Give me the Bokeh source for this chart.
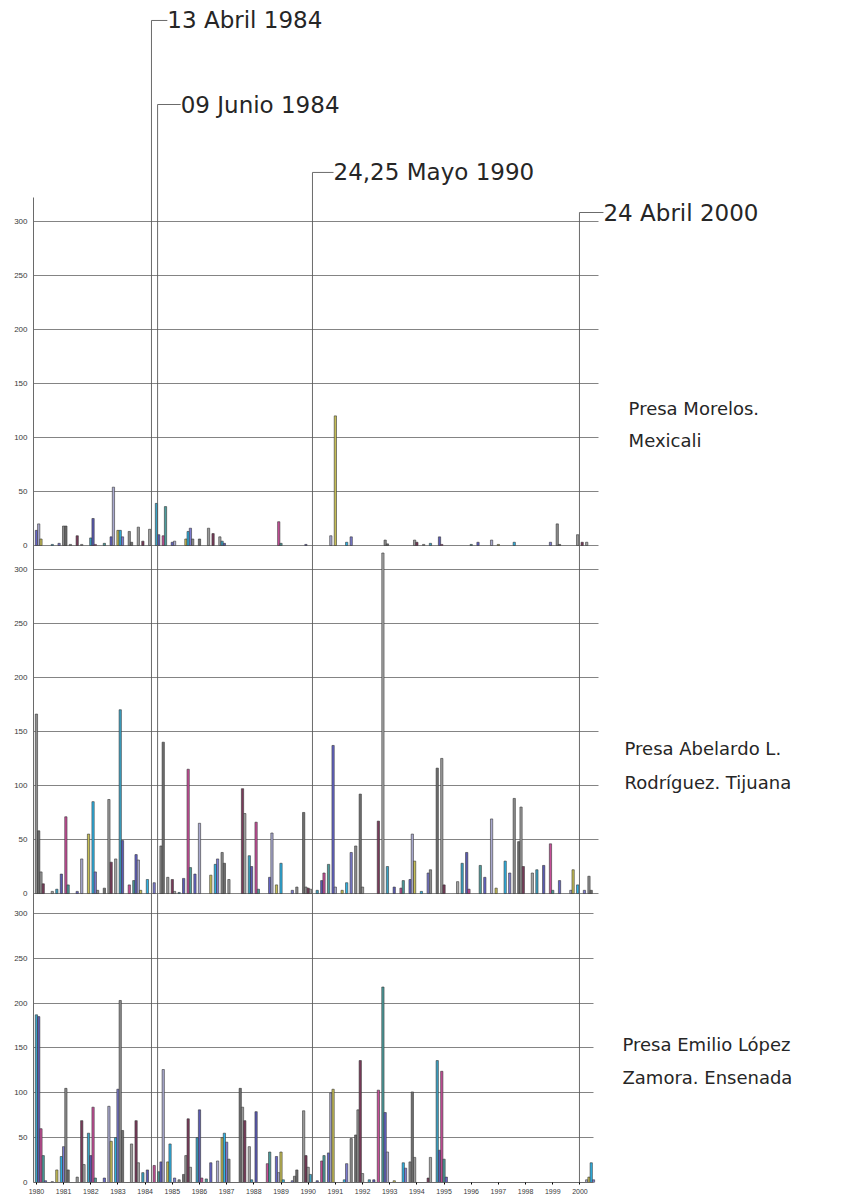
from bokeh.plotting import figure
from bokeh.models import Range1d, LinearAxis, FixedTicker, Grid, ColumnDataSource
from bokeh.core.properties import value
from bokeh.embed import file_html
from bokeh.resources import INLINE

# ---------------- data (month index: 0 = Jan 1980) ----------------
years = list(range(1980, 2001))
y_ticks = [0, 50, 100, 150, 200, 250, 300]

morelos_month = [0, 1, 2, 7, 10, 12, 13, 15, 18, 20, 24, 25, 26, 30, 33, 34, 36, 37, 38,
                 41, 42, 45, 47, 50, 53, 54, 56, 57, 60, 61, 66, 67, 68, 69, 72, 76, 78,
                 81, 82, 83, 107, 108, 119, 130, 132, 137, 139, 154, 155, 167, 168, 171,
                 174, 178, 179, 192, 195, 201, 204, 211, 227, 230, 231, 239, 241, 243]
morelos_val = [14, 20, 6, 1, 2, 18, 18, 1, 9, 1, 7, 25, 1, 2, 8, 54, 14, 14, 8,
               13, 3, 17, 4, 15, 39, 10, 9, 36, 3, 4, 6, 13, 16, 6, 6, 16, 11,
               8, 4, 2, 22, 2, 1, 9, 120, 3, 8, 5, 1.5, 5, 3, 1,
               2, 8, 1, 1, 3, 5, 1, 3, 3, 20, 1, 10, 3, 3]

tijuana_month = [0, 1, 2, 3, 7, 9, 11, 13, 14, 18, 20, 23, 25, 26, 27, 30, 32, 33, 35, 37,
                 38, 41, 43, 44, 45, 46, 49, 52, 55, 56, 58, 60, 61, 63, 65, 67, 68, 70,
                 72, 77, 79, 80, 82, 83, 85, 91, 92, 94, 95, 97, 98, 103, 104, 106, 108,
                 113, 115, 118, 119, 120, 121, 124, 126, 127, 129, 131, 132, 135, 137,
                 139, 141, 143, 144, 151, 153, 155, 158, 161, 162, 165, 166, 167, 170,
                 173, 174, 177, 179, 180, 186, 188, 190, 191, 196, 198, 201, 203, 207,
                 209, 211, 213, 214, 215, 219, 221, 224, 227, 228, 231, 236, 237, 239,
                 242, 244, 245]
tijuana_val = [166, 58, 20, 9, 2, 4, 18, 71, 8, 2, 32, 55, 85, 20, 3, 5, 87, 29, 32, 170,
               49, 8, 12, 36, 31, 3, 13, 10, 44, 140, 15, 13, 2, 1, 14, 115, 24, 18,
               65, 17, 27, 32, 38, 28, 13, 97, 74, 35, 25, 66, 4, 15, 56, 8, 28,
               3, 6, 75, 6, 5, 4, 3, 12, 19, 27, 137, 6, 3, 10,
               38, 44, 92, 6, 67, 315, 25, 6, 5, 12, 13, 55, 30, 2,
               19, 22, 116, 125, 8, 11, 28, 38, 4, 26, 15, 69, 5, 30,
               19, 88, 48, 80, 25, 19, 22, 26, 46, 3, 12, 3, 22, 8,
               3, 16, 3]

ensenada_month = [0, 1, 2, 3, 4, 7, 9, 11, 12, 13, 14, 18, 20, 21, 23, 24, 25, 26, 30, 32,
                  33, 35, 36, 37, 38, 42, 44, 45, 47, 49, 52, 54, 55, 56, 58, 59, 61, 63,
                  65, 66, 67, 68, 71, 72, 73, 75, 77, 80, 82, 83, 84, 85, 90, 91, 92, 94,
                  95, 97, 102, 103, 106, 107, 108, 109, 113, 114, 115, 118, 119, 120, 121,
                  124, 126, 127, 129, 130, 131, 136, 137, 139, 141, 142, 143, 144, 147,
                  149, 151, 153, 154, 155, 158, 162, 163, 165, 166, 167, 173, 174, 177,
                  178, 179, 180, 181, 243, 244, 245, 246]
ensenada_val = [187, 185, 60, 30, 2, 1, 14, 29, 40, 105, 14, 6, 69, 20, 55, 30, 84, 5, 5, 85,
                46, 50, 104, 203, 58, 43, 69, 22, 11, 14, 19, 12, 23, 126, 23, 43, 5, 3,
                9, 30, 71, 17, 50, 81, 5, 4, 22, 24, 50, 55, 45, 26, 105, 84, 69, 40,
                3, 79, 21, 34, 29, 11, 34, 3, 2, 7, 14, 80, 30, 17, 9,
                2, 24, 30, 33, 100, 104, 3, 21, 49, 53, 81, 136, 10, 3,
                3, 103, 218, 78, 34, 2, 22, 16, 23, 101, 28, 5, 28, 136,
                36, 124, 26, 6, 3, 6, 22, 3]

panel_names = [["Presa Morelos.", "Mexicali"],
               ["Presa Abelardo L.", "Rodríguez. Tijuana"],
               ["Presa Emilio López", "Zamora. Ensenada"]]

event_labels = ["13 Abril 1984", "09 Junio 1984", "24,25 Mayo 1990", "24 Abril 2000"]
event_month = [50.8, 53.5, 121.9, 239.8]

# ---------------- layout constants ----------------
W, H = 855, 1200
XS, XE = -1.3, 361.7
PANEL_XEND = [248.2, 248.2, 246.0]
RANGES = {"default": (-589.8, 504.6), "p2": (-267.3, 826.1), "p3": (0.0, 1318.2)}
PALETTE = ["#6464C8", "#8C8C8C", "#3AA2C4", "#A9A9CF", "#6E6E6E", "#5A5AB4",
           "#C6BE55", "#9A9A9A", "#C64E98", "#2DB2E4", "#7A3A5A", "#4C9C9C",
           "#7B7BD0", "#A5A5A5"]
TXT_FONT = value("DejaVu Sans")

p = figure(width=W, height=H, output_backend="svg", toolbar_location=None,
           x_range=Range1d(XS, XE), y_range=Range1d(*RANGES["default"]),
           x_axis_location=None, y_axis_location=None,
           min_border_left=33, min_border_right=0, min_border_top=0,
           min_border_bottom=18, outline_line_color=None,
           background_fill_color="white", border_fill_color="white")
p.xgrid.visible = False
p.ygrid.visible = False
p.extra_y_ranges = {"p2": Range1d(*RANGES["p2"]), "p3": Range1d(*RANGES["p3"])}

panels = [("default", morelos_month, morelos_val),
          ("p2", tijuana_month, tijuana_val),
          ("p3", ensenada_month, ensenada_val)]


def to_default(rn, v):
    """position of value v of panel range rn on the shared left axis"""
    a, b = RANGES[rn]
    A, B = RANGES["default"]
    u = round(A + (v - a) / (b - a) * (B - A), 3)
    return int(u) if u == int(u) else u


axis_ticks, axis_labels = [], {}
for k, (rn, months, vals) in enumerate(panels):
    g = Grid(dimension=1, y_range_name=rn, ticker=FixedTicker(ticks=y_ticks),
             cross_bounds=(XS, PANEL_XEND[k]), grid_line_color="#767676",
             grid_line_width=0.9)
    p.add_layout(g)
    for t in y_ticks:
        pos = to_default(rn, t)
        axis_ticks.append(pos)
        axis_labels[pos] = str(t)
    src = ColumnDataSource(dict(x=months, top=vals,
                                color=[PALETTE[(i * 3 + k) % len(PALETTE)] for i in range(len(vals))]))
    p.vbar(x="x", top="top", bottom=0, width=1.0, source=src, y_range_name=rn,
           fill_color="color", line_color="#363636", line_width=0.6)

yax = LinearAxis(ticker=FixedTicker(ticks=axis_ticks), major_label_overrides=axis_labels,
                 bounds=(RANGES["default"][0], 322),
                 major_label_text_font_size="8px", major_label_text_font="Liberation Sans",
                 major_label_text_color="#3a3a3a", major_tick_out=0, major_tick_in=0,
                 minor_tick_out=0, major_label_standoff=6,
                 axis_line_color="#6a6a6a", axis_line_width=1)
p.add_layout(yax, "left")

xax = LinearAxis(bounds=(XS, PANEL_XEND[2]),
                 ticker=FixedTicker(ticks=[12 * i for i in range(len(years))]),
                 major_label_overrides={12 * i: str(yv) for i, yv in enumerate(years)},
                 major_label_text_font_size="7px", major_label_text_font="Liberation Sans",
                 major_label_text_color="#3a3a3a", major_tick_out=2, major_tick_in=0,
                 minor_tick_out=0, major_label_standoff=4,
                 axis_line_color="#6a6a6a")
p.add_layout(xax, "below")

# panel names (positions in each panel's units)
name_x = [261.5, 259.7, 258.8]
name_y = [[126.9, 97.2], [134.1, 102.7], [153.9, 116.9]]
for k, (rn, _, _) in enumerate(panels):
    p.text(x=[name_x[k]] * 2, y=name_y[k], text=panel_names[k], y_range_name=rn,
           text_font=TXT_FONT, text_font_size="18px", text_color="#262626",
           text_baseline="middle", text_align="left")

# event markers (panel 1 units)
ev_y = [486.1, 408.3, 345.4, 308.3]
ev_elbow = [7.0, 10.2, 9.3, 10.6]
ev_end = [m + e for m, e in zip(event_month, ev_elbow)]
p.segment(x0=event_month, y0=ev_y, x1=event_month, y1=[RANGES["default"][0]] * 4,
          line_color="#5a5a5a", line_width=0.9)
p.segment(x0=event_month, y0=ev_y, x1=ev_end, y1=ev_y,
          line_color="#5a5a5a", line_width=0.9)
p.text(x=ev_end, y=ev_y, text=event_labels, text_font=TXT_FONT, text_font_size="23px",
       text_color="#262626", text_baseline="middle", text_align="left")

open("out.html", "w").write(file_html(p, INLINE))
